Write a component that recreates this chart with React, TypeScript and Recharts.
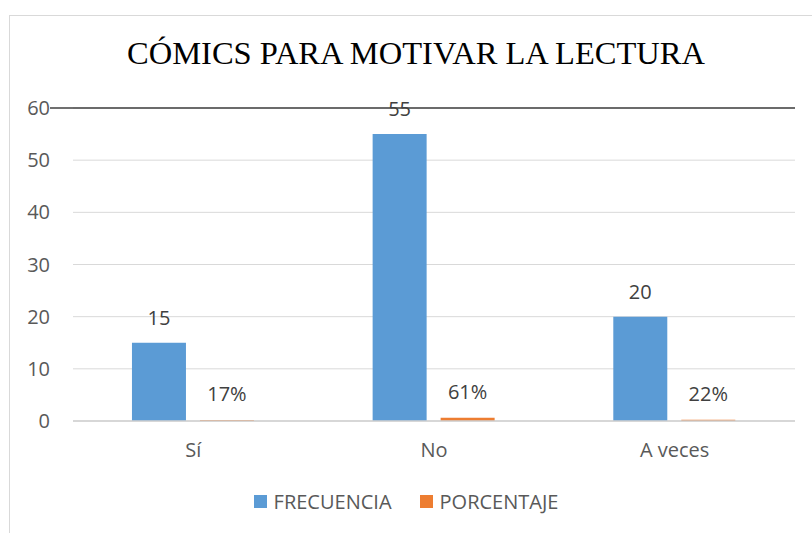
import React from 'react';
import {
  BarChart,
  Bar,
  XAxis,
  YAxis,
  CartesianGrid,
  Legend,
  LabelList,
  ReferenceLine,
} from 'recharts';

const CATEGORIES = ['Sí', 'No', 'A veces'];
const FRECUENCIA = [15, 55, 20];
const PORCENTAJE = [0.17, 0.61, 0.22];
const Y_TICKS = [0, 10, 20, 30, 40, 50, 60];

const BLUE = '#5b9bd5';
const ORANGE = '#ed7d31';
const TEXT = '#595959';
const FONT = '"Open Sans", "Liberation Sans", sans-serif';

const data = CATEGORIES.map((name, i) => ({
  name,
  frecuencia: FRECUENCIA[i],
  porcentaje: PORCENTAJE[i],
}));

// dark top rule sticks out past the plot area to the left
function TopRule(props: any) {
  const { x1, y1, x2, y2 } = props;
  return <line x1={x1 - 23} y1={y1} x2={x2} y2={y2} stroke="#404040" strokeWidth={1.5} />;
}

function LegendContent() {
  const items = [
    { label: 'FRECUENCIA', color: BLUE },
    { label: 'PORCENTAJE', color: ORANGE },
  ];
  return (
    <div style={{ display: 'flex', justifyContent: 'center', gap: 28, fontFamily: FONT, fontSize: 20, color: TEXT }}>
      {items.map((it) => (
        <div key={it.label} style={{ display: 'flex', alignItems: 'center', gap: 7 }}>
          <span style={{ width: 13, height: 13, background: it.color, display: 'inline-block' }} />
          <span>{it.label}</span>
        </div>
      ))}
    </div>
  );
}

export default function App() {
  return (
    <div style={{ position: 'absolute', left: 0, top: 0, width: 812, height: 533, overflow: 'hidden', background: '#fff' }}>
      <div
        style={{
          position: 'absolute',
          left: 9,
          top: 15,
          width: 900,
          height: 600,
          border: '1px solid #d9d9d9',
          boxSizing: 'border-box',
        }}
      />
      <div
        style={{
          position: 'absolute',
          left: 0,
          width: 832,
          top: 35,
          textAlign: 'center',
          fontFamily: '"Liberation Serif", "Times New Roman", serif',
          fontSize: 32.5,
          color: '#000',
        }}
      >
        CÓMICS PARA MOTIVAR LA LECTURA
      </div>
      <div style={{ position: 'absolute', left: 0, top: 0 }}>
        <BarChart
          width={812}
          height={533}
          data={data}
          margin={{ top: 108, right: 17, bottom: 45, left: 33 }}
          barCategoryGap="24.5%"
          barGap={14}
        >
          <CartesianGrid vertical={false} stroke="#d9d9d9" />
          <XAxis
            dataKey="name"
            axisLine={{ stroke: '#d0d0d0', strokeWidth: 1.5 }}
            tickLine={false}
            tick={{ fill: TEXT, fontSize: 20, fontFamily: FONT }}
            tickMargin={16}
            height={40}
          />
          <YAxis
            domain={[0, 60]}
            ticks={Y_TICKS}
            axisLine={false}
            tickLine={false}
            tickSize={6}
            tickMargin={17}
            width={40}
            tick={{ fill: TEXT, fontSize: 20, fontFamily: FONT }}
          />
          <ReferenceLine y={60} shape={TopRule} />
          <Bar dataKey="frecuencia" name="FRECUENCIA" fill={BLUE} isAnimationActive={false}>
            <LabelList dataKey="frecuencia" position="top" offset={18} fill="#404040" fontSize={20} fontFamily={FONT} />
          </Bar>
          <Bar dataKey="porcentaje" name="PORCENTAJE" fill={ORANGE} isAnimationActive={false}>
            <LabelList
              dataKey="porcentaje"
              position="top"
              offset={19}
              fill="#404040"
              fontSize={20}
              fontFamily={FONT}
              formatter={(v: any) => `${Math.round(Number(v) * 100)}%`}
            />
          </Bar>
          <Legend
            verticalAlign="bottom"
            content={<LegendContent />}
            wrapperStyle={{ top: 488, left: 0, width: 812 }}
          />
        </BarChart>
      </div>
    </div>
  );
}
